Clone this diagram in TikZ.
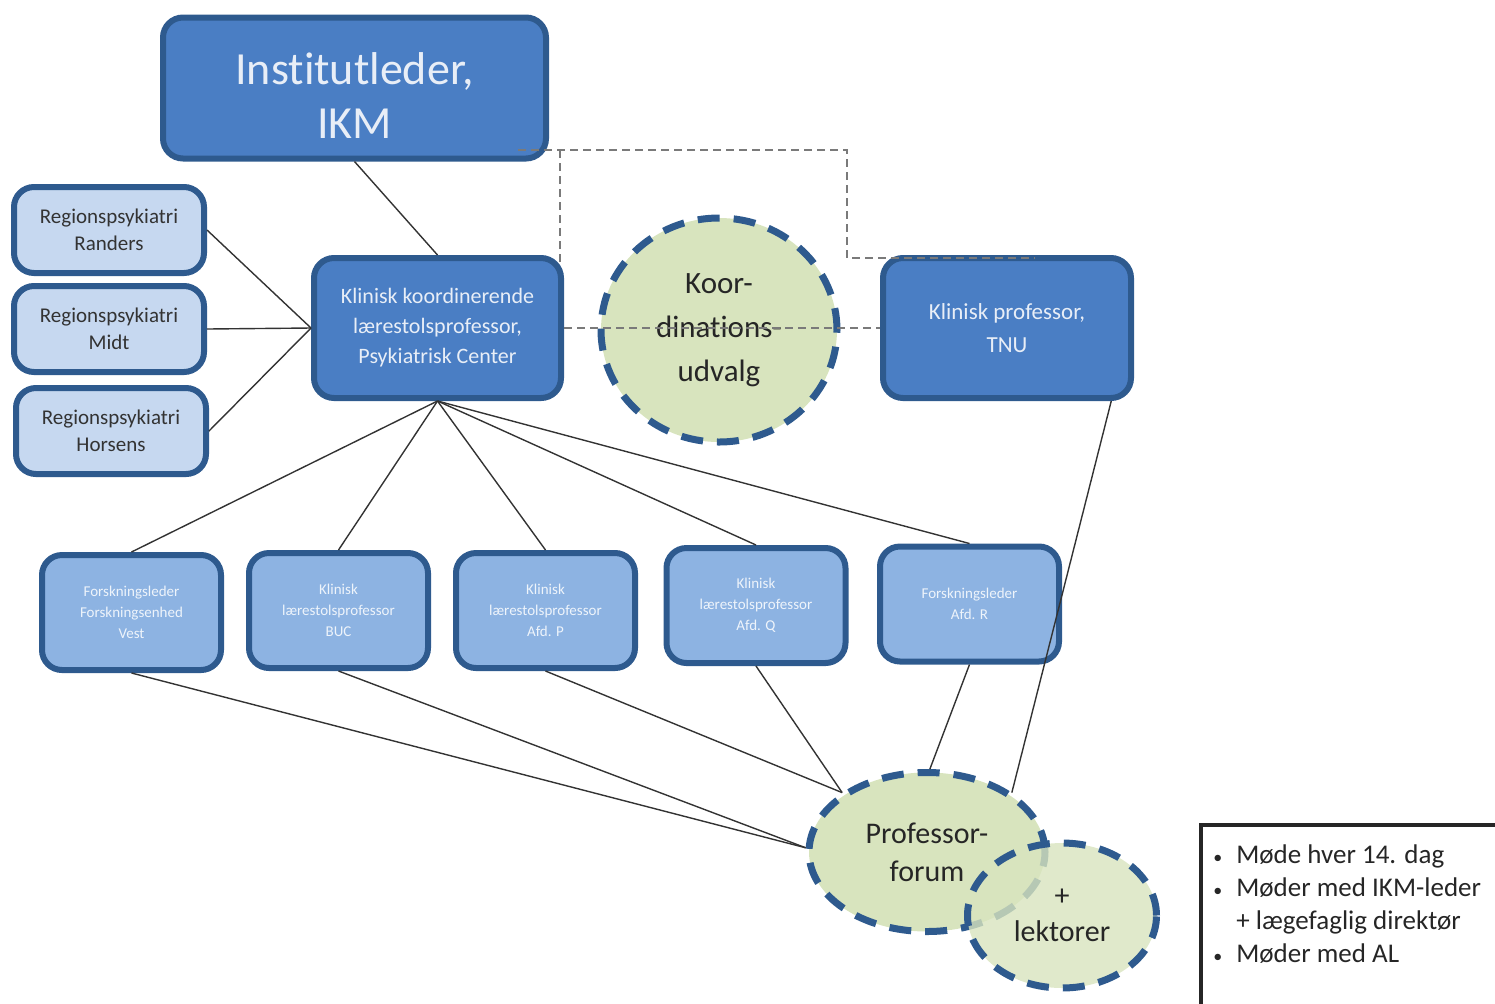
\documentclass[tikz,border=0pt]{standalone}
\usepackage{fontspec}
\setmainfont{Carlito}[Ligatures=NoCommon]
\usetikzlibrary{shapes.geometric}
\definecolor{boxdark}{HTML}{4A7EC4}
\definecolor{boxborder}{HTML}{2E5A8E}
\definecolor{boxlight}{HTML}{C6D8F0}
\definecolor{boxmid}{HTML}{8DB3E2}
\definecolor{greenfill}{HTML}{D8E4BE}
\definecolor{lighttext}{HTML}{E8EEF7}
\definecolor{dashgray}{HTML}{7A7A7A}
\begin{document}
\begin{tikzpicture}[x=0.5pt,y=-0.5pt,
  base/.style={rounded corners=10pt, draw=boxborder, line width=3pt, align=center, inner sep=2pt},
  darkbox/.style={base, fill=boxdark, text=lighttext},
  lightbox/.style={base, fill=boxlight, text=black!80, minimum width=95pt, minimum height=43pt, font=\fontsize{10.5}{13.5}\selectfont},
  midbox/.style={base, fill=boxmid, text=white!85!boxmid, minimum width=89.5pt, minimum height=57.5pt, font=\fontsize{7.5}{10.5}\selectfont},
  forum/.style={ellipse, fill=greenfill, draw=boxborder, line width=3.5pt, dash pattern=on 11pt off 7pt, align=center, inner sep=0pt, text=black!85},
  conn/.style={draw=black!80, line width=0.7pt},
  dconn/.style={draw=dashgray, line width=0.8pt, dash pattern=on 4pt off 2.5pt}]
\clip (0,0) rectangle (1495,1003);

% top
\node[darkbox, minimum width=191.5pt, minimum height=70.5pt, font=\fontsize{23}{27}\selectfont, text depth=0pt] (inst) at (354.5,88) {\rule{0pt}{0pt}\\[-4pt]Institutleder,\\IKM};

% left boxes
\node[lightbox] (randers) at (109,230) {Regionspsykiatri\\Randers};
\node[lightbox] (midt) at (109,329) {Regionspsykiatri\\Midt};
\node[lightbox] (horsens) at (111,431) {Regionspsykiatri\\Horsens};

% middle row
\node[darkbox, minimum width=123.5pt, minimum height=70pt, font=\fontsize{11}{15}\selectfont] (kk) at (437.5,328) {Klinisk koordinerende\\lærestolsprofessor,\\Psykiatrisk Center};
\node[darkbox, minimum width=124pt, minimum height=70pt, font=\fontsize{11.5}{16.5}\selectfont] (tnu) at (1007,328) {Klinisk professor,\\TNU};
\node[forum, minimum width=118pt, minimum height=112pt, font=\fontsize{15.5}{22}\selectfont] (koor) at (719,330) {Koor-\\dinations-\\udvalg};

% bottom row
\node[midbox] (b1) at (131.5,612.5) {Forskningsleder\\Forskningsenhed\\Vest};
\node[midbox] (b2) at (338.5,610.5) {Klinisk\\lærestolsprofessor\\BUC};
\node[midbox] (b3) at (545.5,610.5) {Klinisk\\lærestolsprofessor\\Afd. P};
\node[midbox] (b4) at (756,605.5) {Klinisk\\lærestolsprofessor\\Afd. Q};
\node[midbox] (b5) at (969.5,604) {Forskningsleder\\Afd. R};

% forum ellipses
\node[forum, minimum width=118pt, minimum height=79.5pt, font=\fontsize{15}{19}\selectfont] (pf) at (927,852) {Professor-\\forum};
\node[forum, fill opacity=0.8, text opacity=1, minimum width=94.5pt, minimum height=72.5pt, font=\fontsize{15}{18}\selectfont] (lek) at (1062,915.5) {+\\lektorer};

% notes box
\draw[line width=2pt, draw=black!85] (1201,825) rectangle (1510,1015);
\node[anchor=north west, align=left, inner sep=0pt, font=\fontsize{13.5}{16.5}\selectfont, text=black!85] (notes) at (1213,840) {%
\begin{tabular}{@{}l@{\hspace{7pt}}l@{}}
{\small\textbullet} & Møde hver 14. dag\\
{\small\textbullet} & Møder med IKM-leder\\
 & + lægefaglig direktør\\
{\small\textbullet} & Møder med AL
\end{tabular}};

% solid connectors
\draw[conn] (inst.south) -- (kk.north);
\draw[conn] (randers.east) -- (kk.west);
\draw[conn] (midt.east) -- (kk.west);
\draw[conn] (horsens.east) -- (kk.west);
\foreach \b in {b1,b2,b3,b4,b5} \draw[conn] (kk.south) -- (\b.north);
\draw[conn] (b1.south) -- (pf.178);
\draw[conn] (b2.south) -- (pf.178);
\draw[conn] (b3.south) -- (pf.145);
\draw[conn] (b4.south) -- (pf.145);
\draw[conn] (b5.south) -- (pf.88);
\draw[conn] (tnu.-35.5) -- (pf.35);

% dashed connectors
\coordinate (d1) at (518,150);
\coordinate (d2) at (847,150);
\coordinate (d3) at (847,258);
\coordinate (d4) at (1035,258);
\coordinate (d5) at (560,150);
\coordinate (d6) at (560,262);
\draw[dconn] (d1) -- (d2) -- (d3) -- (d4);
\draw[dconn] (d5) -- (d6);
\draw[dconn] (kk.east) -- (tnu.west);
\end{tikzpicture}
\end{document}
